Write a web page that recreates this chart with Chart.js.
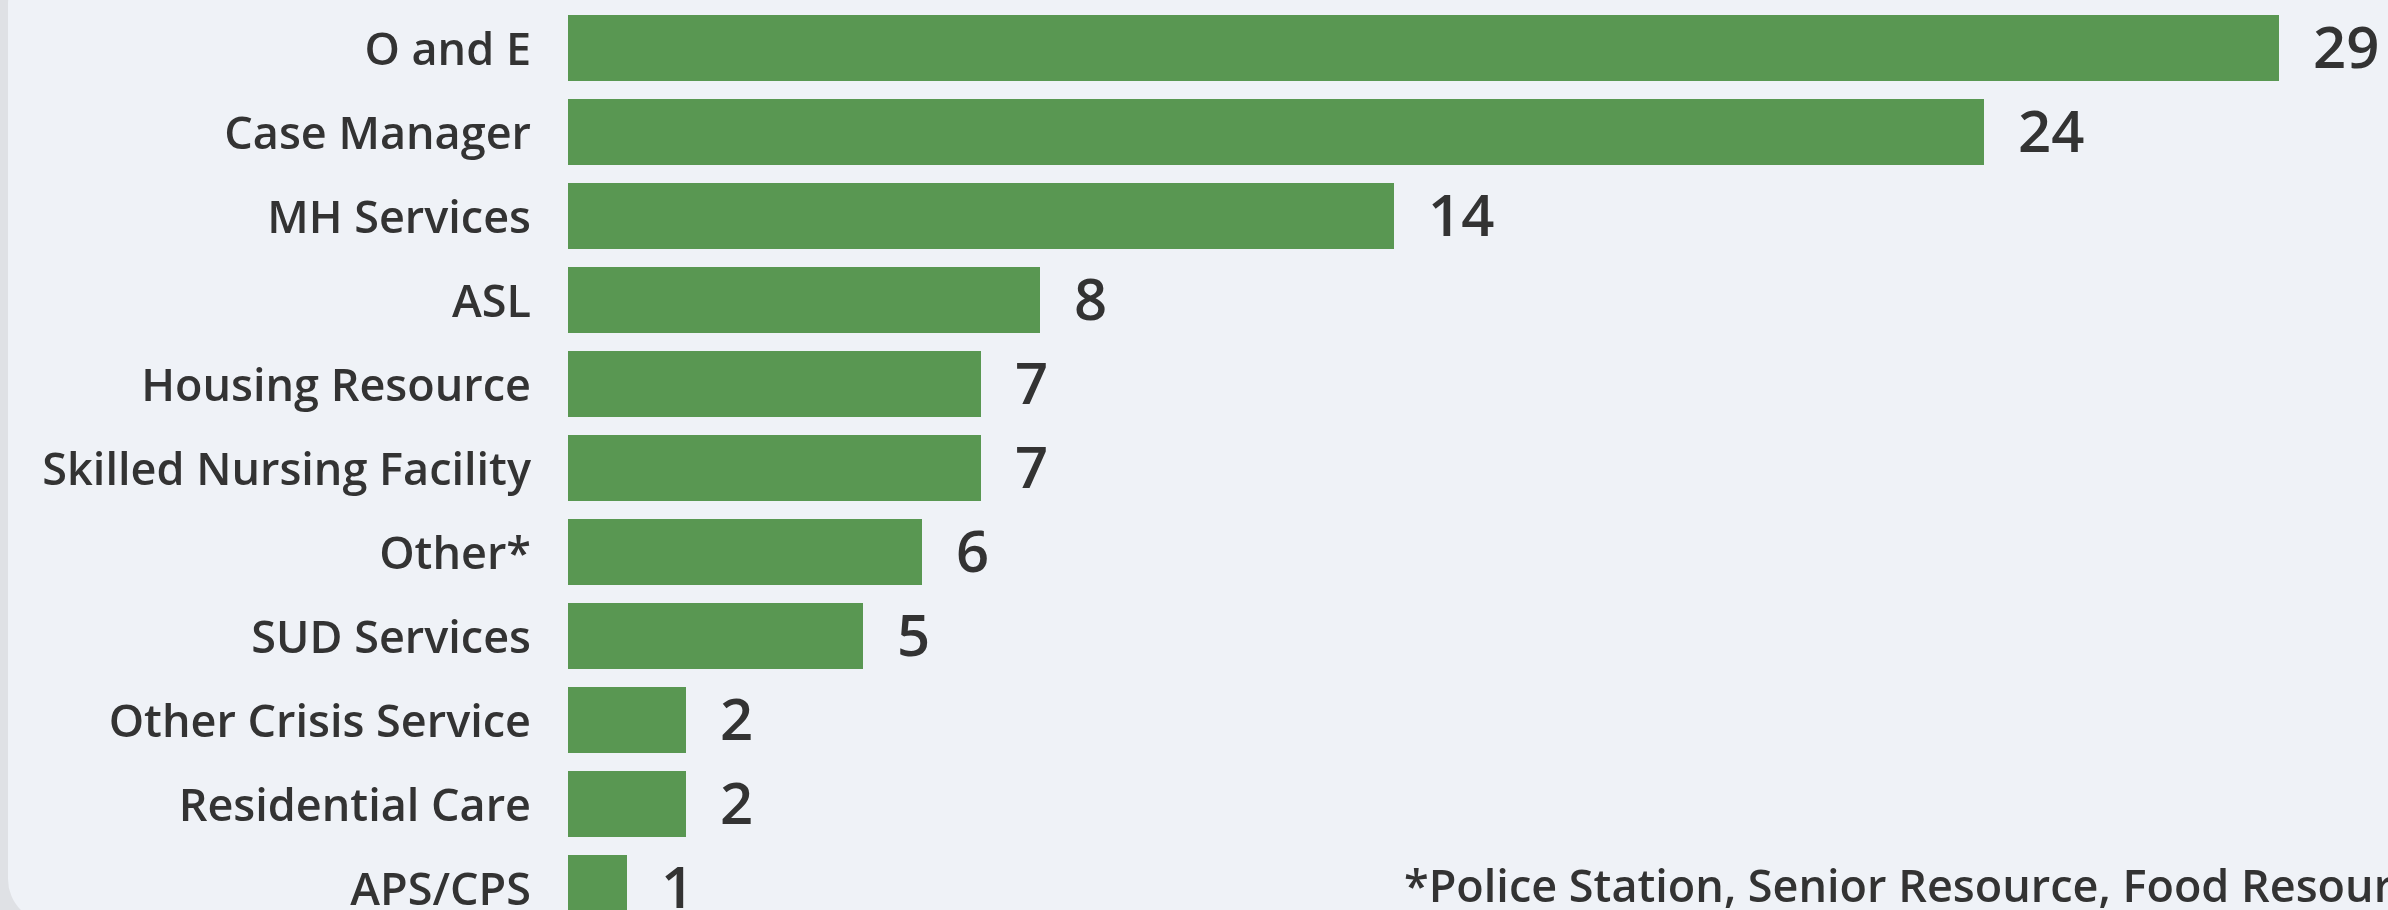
<!DOCTYPE html>
<html>
<head>
<meta charset="utf-8">
<script src="https://cdn.jsdelivr.net/npm/chart.js@4.4.0/dist/chart.umd.min.js"></script>
<style>
  html, body { margin: 0; padding: 0; width: 2388px; height: 910px; overflow: hidden; background: #dfe1e5; }
  #card { position: absolute; left: 8px; top: -40px; width: 2420px; height: 963px; background: #eff2f7; border-radius: 44px; }
  #wrap { position: absolute; left: 0; top: 0; width: 2388px; height: 930px; }
  #nota { position: absolute; left: 1404px; top: 862px; font: 600 45px "Open Sans", sans-serif; line-height: 45px; color: #333; white-space: nowrap; }
</style>
</head>
<body>
<div id="card"></div>
<div id="wrap"><canvas id="chart"></canvas></div>
<div id="nota">*Police Station, Senior Resource, Food Resource</div>
<script>
  // categorias y valores
  const categorias = ['O and E', 'Case Manager', 'MH Services', 'ASL', 'Housing Resource',
    'Skilled Nursing Facility', 'Other*', 'SUD Services', 'Other Crisis Service',
    'Residential Care', 'APS/CPS'];
  const valores = [29, 24, 14, 8, 7, 7, 6, 5, 2, 2, 1];

  // dibujar el numero al final de cada barra
  const etiquetasValor = {
    id: 'etiquetasValor',
    afterDatasetsDraw(chart) {
      const ctx = chart.ctx;
      const meta = chart.getDatasetMeta(0);
      ctx.save();
      ctx.font = '600 58px "Open Sans", sans-serif';
      ctx.fillStyle = '#333333';
      ctx.textAlign = 'left';
      ctx.textBaseline = 'middle';
      meta.data.forEach(function(barra, i) {
        ctx.fillText(String(valores[i]), barra.x + 34, barra.y + 3);
      });
      ctx.restore();
    }
  };

  const ctx = document.getElementById('chart').getContext('2d');
  const grafica = new Chart(ctx, {
    type: 'bar',
    data: {
      labels: categorias,
      datasets: [{
        data: valores,
        backgroundColor: '#599752',
        borderWidth: 0,
        categoryPercentage: 0.8,
        barPercentage: 0.98
      }]
    },
    options: {
      indexAxis: 'y',
      responsive: true,
      maintainAspectRatio: false,
      animation: false,
      layout: { padding: { top: 6, right: 50, bottom: 0, left: 0 } },
      plugins: { legend: { display: false }, tooltip: { enabled: false } },
      scales: {
        x: { display: false, min: 0, max: 30 },
        y: {
          grid: { display: false, drawTicks: false },
          border: { display: false },
          ticks: {
            color: '#333333',
            padding: 37,
            labelOffset: 4,
            font: { family: '"Open Sans", sans-serif', size: 45, weight: '600' }
          },
          afterFit(escala) {
            escala.width = 568;
            escala.paddingTop = 0;
            escala.paddingBottom = 0;
          }
        }
      }
    },
    plugins: [etiquetasValor]
  });
</script>
</body>
</html>
